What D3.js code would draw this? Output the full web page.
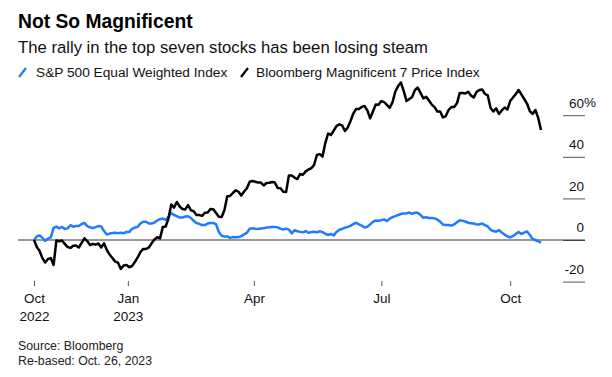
<!DOCTYPE html>
<html>
<head>
<meta charset="utf-8">
<script src="https://cdn.jsdelivr.net/npm/d3@7"></script>
<style>
  body { margin: 0; background: #fff; }
  text { font-family: "Liberation Sans", Arial, sans-serif; }
</style>
</head>
<body>
<div id="chart-area"></div>
<script>
const W = 612
const H = 377

// every 2 days, Oct 26 2022 -> Oct 23 2023
const dates = [
  "2022-10-26","2022-10-28","2022-10-30",
  "2022-11-01","2022-11-03","2022-11-05","2022-11-07","2022-11-09","2022-11-11","2022-11-13","2022-11-15",
  "2022-11-17","2022-11-19","2022-11-21","2022-11-23","2022-11-25","2022-11-27","2022-11-29",
  "2022-12-01","2022-12-03","2022-12-05","2022-12-07","2022-12-09","2022-12-11","2022-12-13","2022-12-15",
  "2022-12-17","2022-12-19","2022-12-21","2022-12-23","2022-12-25","2022-12-27","2022-12-29","2022-12-31",
  "2023-01-02","2023-01-04","2023-01-06","2023-01-08","2023-01-10","2023-01-12","2023-01-14","2023-01-16",
  "2023-01-18","2023-01-20","2023-01-22","2023-01-24","2023-01-26","2023-01-28","2023-01-30",
  "2023-02-01","2023-02-03","2023-02-05","2023-02-07","2023-02-09","2023-02-11","2023-02-13","2023-02-15",
  "2023-02-17","2023-02-19","2023-02-21","2023-02-23","2023-02-25","2023-02-27",
  "2023-03-01","2023-03-03","2023-03-05","2023-03-07","2023-03-09","2023-03-11","2023-03-13","2023-03-15",
  "2023-03-17","2023-03-19","2023-03-21","2023-03-23","2023-03-25","2023-03-27","2023-03-29","2023-03-31",
  "2023-04-02","2023-04-04","2023-04-06","2023-04-08","2023-04-10","2023-04-12","2023-04-14","2023-04-16",
  "2023-04-18","2023-04-20","2023-04-22","2023-04-24","2023-04-26","2023-04-28","2023-04-30",
  "2023-05-02","2023-05-04","2023-05-06","2023-05-08","2023-05-10","2023-05-12","2023-05-14","2023-05-16",
  "2023-05-18","2023-05-20","2023-05-22","2023-05-24","2023-05-26","2023-05-28","2023-05-30",
  "2023-06-01","2023-06-03","2023-06-05","2023-06-07","2023-06-09","2023-06-11","2023-06-13","2023-06-15",
  "2023-06-17","2023-06-19","2023-06-21","2023-06-23","2023-06-25","2023-06-27","2023-06-29",
  "2023-07-01","2023-07-03","2023-07-05","2023-07-07","2023-07-09","2023-07-11","2023-07-13","2023-07-15",
  "2023-07-17","2023-07-19","2023-07-21","2023-07-23","2023-07-25","2023-07-27","2023-07-29","2023-07-31",
  "2023-08-02","2023-08-04","2023-08-06","2023-08-08","2023-08-10","2023-08-12","2023-08-14","2023-08-16",
  "2023-08-18","2023-08-20","2023-08-22","2023-08-24","2023-08-26","2023-08-28","2023-08-30",
  "2023-09-01","2023-09-03","2023-09-05","2023-09-07","2023-09-09","2023-09-11","2023-09-13","2023-09-15",
  "2023-09-17","2023-09-19","2023-09-21","2023-09-23","2023-09-25","2023-09-27","2023-09-29",
  "2023-10-01","2023-10-03","2023-10-05","2023-10-07","2023-10-09","2023-10-11","2023-10-13","2023-10-15",
  "2023-10-17","2023-10-19","2023-10-21","2023-10-23"
]

const equalWeight = [
  0, 1.7, 2.2,
  1, -0.4, 0.7, 1.3, 5.8, 6.4, 5.6, 6.3,
  5.3, 5.6, 7.1, 6.4, 6.7, 6.7, 7.7,
  8.2, 6.7, 6.1, 5.7, 6.2, 6.7, 6.5, 4.3,
  2.6, 3.1, 3.4, 3.5, 3.3, 3.5, 3.2, 3.9,
  3.8, 5.4, 6, 6.3, 7.9, 8.8, 8.8, 7.9,
  7.9, 8.4, 9.4, 10, 10.3, 9.7, 11.1,
  13, 12, 11.5, 10.8, 10.8, 11.3, 11.4, 10.6,
  9.2, 8.2, 7.8, 7.2, 7.2, 7.9,
  8.2, 8.2, 7.5, 3.8, 2, 1.7, 1.7, 1,
  1.4, 1.3, 1.4, 1.8, 2.7, 3.5, 5.4, 5.6,
  5.4, 5.3, 5.5, 5.6, 6, 6.1, 6.3, 6.3,
  6, 5.5, 5, 5.5, 5, 3.2, 4.7,
  4.2, 3.9, 3.7, 4.3, 3.5, 3.8, 4, 3.7,
  4.2, 3.8, 3, 2.4, 2.9, 2.2, 3.9,
  4.9, 5.3, 5.9, 6.3, 6.8, 7.7, 8.3, 7.5,
  6.9, 6, 6.4, 7.5, 8.7, 9.4, 9.3,
  9.5, 9.9, 9.1, 10.3, 11, 11.5, 12, 12.5,
  12.8, 12.8, 13.2, 12.6, 13.1, 13.1, 12, 10.7,
  10.9, 10.6, 10.6, 10.4, 9.8, 8.8, 7.4, 7.2,
  7.2, 6.9, 7.5, 8.5, 9.5, 9.2, 8.9,
  8.3, 8, 7.9, 7.5, 7.5, 7.9, 7.2, 6.5,
  4.9, 4.3, 4, 4.7, 3.6, 2.6, 1.7,
  1.3, 1.9, 2.9, 3.9, 2.9, 3.5, 4.1, 2.5,
  0.5, 0, -0.6, -1.3
]

const mag7 = [
  0, -3.4, -5.3,
  -8.7, -10.8, -9.1, -8.7, -12, -0.2, -0.6, -0.2,
  -1.9, -3.4, -3.8, -2.8, -2.6, -3.6, -1.4,
  0.8, -0.5, -2.4, -1.9, -2.2, -1.7, -3.6, -1.6,
  -4.8, -7, -8.7, -10.4, -10.9, -13.9, -12.3, -12,
  -13.1, -12.5, -10.6, -8.4, -5.8, -4.3, -4.3, -3.6,
  -1.6, 0.2, 1.3, 0.8, 6.3, 6.5, 10.3,
  17.1, 15.6, 18.3, 16.1, 14.9, 14.7, 16.8, 14.3,
  13.8, 12, 12, 11.6, 13.1, 13.2,
  14.9, 14.8, 13, 11.2, 11.1, 14.4, 21, 21.2,
  22.6, 23.9, 23.2, 21.4, 23.3, 24.9, 28, 28.4,
  28, 27.6, 27.6, 26.2, 27.4, 27.5, 27.9, 27.6,
  25, 24.9, 23.2, 23.1, 31, 31, 30,
  29.3, 31.7, 31.4, 33, 33.9, 34.5, 36.1, 40.9,
  41.3, 40.1, 46.6, 51.2, 50.5, 52.6, 54.8,
  55.6, 55.1, 52.4, 54.1, 57.2, 60.8, 63, 63,
  64, 64.4, 62.3, 58.5, 61.8, 65.1, 65,
  66.8, 66.3, 65, 63.5, 66.3, 71.4, 74, 75.7,
  71.6, 66.8, 67.8, 68.8, 72.1, 73.3, 70.7, 68.1,
  68.8, 67.1, 65.1, 63.9, 61.8, 61.8, 58.9, 59.6,
  62.5, 63.9, 63.9, 65.7, 70.7, 70.7, 70.4,
  71.3, 69.5, 68.5, 71.2, 72.1, 72.4, 70.2, 69.5,
  63.5, 61.8, 63.3, 60.6, 62.3, 63.7, 62.7,
  66.8, 68.5, 70.2, 72.1, 70, 67.8, 65.6, 62,
  60.6, 62.5, 58.7, 52.9
]

const yTicks = [-20, 0, 20, 40, 60]
const xTicks = ["2022-10-26", "2023-01-01", "2023-04-01", "2023-07-01", "2023-10-01"]
const xTickMonths = ["Oct", "Jan", "Apr", "Jul", "Oct"]
const xTickYears = ["2022", "2023", "", "", ""]

const BLUE = "#1f7bff"
const parse = d3.timeParse("%Y-%m-%d")

const svg = d3.select("#chart-area").append("svg")
  .attr("width", W)
  .attr("height", H)

svg.append("rect").attr("width", W).attr("height", H).attr("fill", "#fff")

// Title + subtitle
svg.append("text")
  .attr("x", 18).attr("y", 28)
  .style("font-size", "19.3px").style("font-weight", "bold")
  .attr("fill", "#000")
  .text("Not So Magnificent")

svg.append("text")
  .attr("x", 18).attr("y", 53)
  .style("font-size", "16.7px")
  .attr("fill", "#111")
  .text("The rally in the top seven stocks has been losing steam")

// Legend
const legend = [
  { name: "S&P 500 Equal Weighted Index", color: BLUE, icon: 19, text: 36 },
  { name: "Bloomberg Magnificent 7 Price Index", color: "#000", icon: 241, text: 256 }
]
legend.forEach(l => {
  svg.append("line")
    .attr("x1", l.icon).attr("y1", 77)
    .attr("x2", l.icon + 7).attr("y2", 68)
    .attr("stroke", l.color).attr("stroke-width", 2.2)
  svg.append("text")
    .attr("x", l.text).attr("y", 77)
    .style("font-size", "13.7px")
    .attr("fill", "#111")
    .text(l.name)
})

const x = d3.scaleTime()
  .domain([parse(dates[0]), parse(dates[dates.length - 1])])
  .range([34, 541])

const y = d3.scaleLinear()
  .domain([-20, 60])
  .range([281.6, 115.2])

// Y axis on the right
const yAxis = svg.append("g")
  .attr("transform", "translate(585,0)")
  .call(d3.axisLeft(y).tickValues(yTicks).tickSize(22).tickFormat(d => d))
yAxis.select(".domain").remove()
yAxis.selectAll(".tick line").attr("stroke", "#555")
yAxis.selectAll(".tick text")
  .attr("x", -1).attr("dy", "-0.6em")
  .attr("fill", "#111")
  .style("font-size", "13.5px")
  .style("font-family", "'Liberation Sans', Arial, sans-serif")
svg.append("text")
  .attr("x", 584).attr("y", y(60)).attr("dy", "-0.6em")
  .style("font-size", "13.5px")
  .attr("fill", "#111")
  .text("%")

// zero line
svg.append("line")
  .attr("x1", 18).attr("x2", 585)
  .attr("y1", y(0)).attr("y2", y(0))
  .attr("stroke", "#333").attr("stroke-width", 1)

// X axis
const xAxis = svg.append("g")
  .attr("transform", "translate(0,281)")
  .call(d3.axisBottom(x).tickValues(xTicks.map(parse)).tickSize(5).tickFormat(""))
xAxis.select(".domain").remove()
xAxis.selectAll(".tick line").attr("stroke", "#555")
const xt = xAxis.selectAll(".tick")
xt.append("text")
  .attr("y", 22).attr("fill", "#111").attr("text-anchor", "middle")
  .style("font-size", "13.5px")
  .style("font-family", "'Liberation Sans', Arial, sans-serif")
  .text((d, i) => xTickMonths[i])
xt.append("text")
  .attr("y", 40).attr("fill", "#111").attr("text-anchor", "middle")
  .style("font-size", "13.5px")
  .style("font-family", "'Liberation Sans', Arial, sans-serif")
  .text((d, i) => xTickYears[i])

// Lines
const line = d3.line()
  .x((d, i) => x(parse(dates[i])))
  .y(d => y(d))

svg.append("path")
  .datum(equalWeight)
  .attr("d", line)
  .attr("fill", "none")
  .attr("stroke", BLUE)
  .attr("stroke-width", 2.5)
  .attr("stroke-linejoin", "round")

svg.append("path")
  .datum(mag7)
  .attr("d", line)
  .attr("fill", "none")
  .attr("stroke", "#000")
  .attr("stroke-width", 2.5)
  .attr("stroke-linejoin", "round")

// Footer
svg.append("text")
  .attr("x", 18).attr("y", 350)
  .style("font-size", "12.3px").attr("fill", "#222")
  .text("Source: Bloomberg")
svg.append("text")
  .attr("x", 18).attr("y", 365)
  .style("font-size", "12.3px").attr("fill", "#222")
  .text("Re-based: Oct. 26, 2023")
</script>
</body>
</html>
